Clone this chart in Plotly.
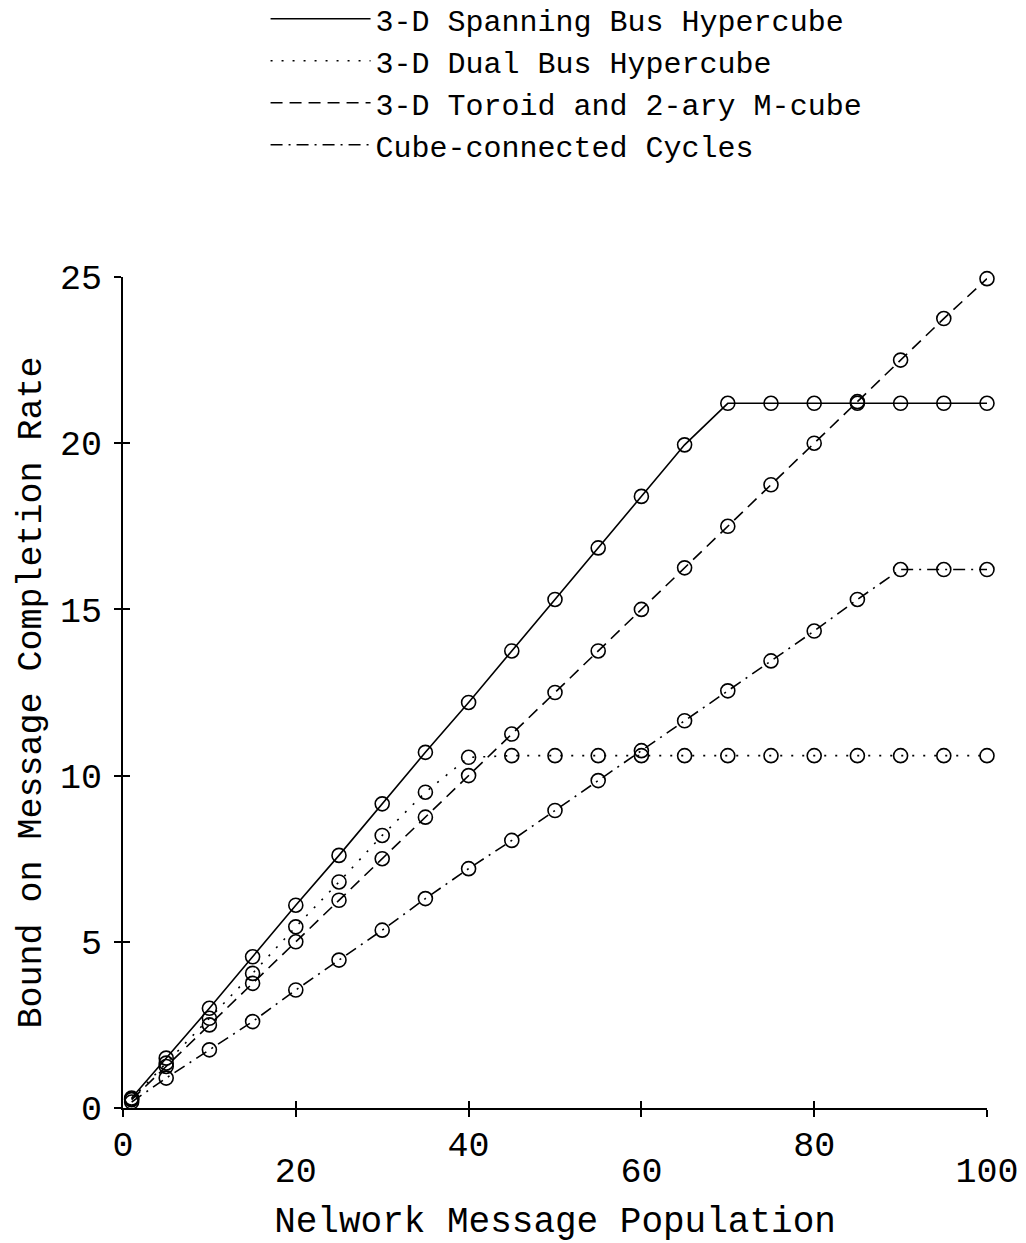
import plotly.graph_objects as go

# Network message population (x)
population = [1, 5, 10, 15, 20, 25, 30, 35, 40, 45, 50, 55, 60, 65, 70, 75, 80, 85, 90, 95, 100]

spanning_bus = [0.3, 1.5, 3.0, 4.55, 6.1, 7.6, 9.15, 10.7, 12.2, 13.75, 15.3, 16.85, 18.4, 19.95,
                21.2, 21.2, 21.2, 21.2, 21.2, 21.2, 21.2]
dual_bus = [0.27, 1.35, 2.7, 4.05, 5.45, 6.8, 8.2, 9.5, 10.55, 10.6, 10.6, 10.6, 10.6, 10.6,
            10.6, 10.6, 10.6, 10.6, 10.6, 10.6, 10.6]
toroid = [0.25, 1.25, 2.5, 3.75, 5.0, 6.25, 7.5, 8.75, 10.0, 11.25, 12.5, 13.75, 15.0, 16.25,
          17.5, 18.75, 20.0, 21.25, 22.5, 23.75, 24.95]
ccc = [0.18, 0.9, 1.75, 2.6, 3.55, 4.45, 5.35, 6.3, 7.2, 8.05, 8.95, 9.85, 10.75, 11.65,
       12.55, 13.45, 14.35, 15.3, 16.2, 16.2, 16.2]

series_names = ["3-D Spanning Bus Hypercube", "3-D Dual Bus Hypercube",
                "3-D Toroid and 2-ary M-cube", "Cube-connected Cycles"]
series_values = [spanning_bus, dual_bus, toroid, ccc]
dashes = ["solid", "2px,9px", "12px,7px", "12px,6px,2px,6px"]

x_ticks_row1 = [0, 40, 80]
x_ticks_row2 = [20, 60, 100]
y_ticks = [0, 5, 10, 15, 20, 25]

FONT = "Liberation Mono"
fig = go.Figure()

for name, vals, dash in zip(series_names, series_values, dashes):
    fig.add_trace(go.Scatter(
        x=population, y=vals, mode="lines", name=name,
        line=dict(color="black", width=1.6, dash=dash),
        hoverinfo="skip"))

for i, vals in enumerate(series_values):
    kw = {}
    if i == 3:
        kw["xaxis"] = "x2"
    if i == 2:
        kw["yaxis"] = "y2"
    fig.add_trace(go.Scatter(
        x=population, y=vals, mode="markers", showlegend=False, cliponaxis=False,
        marker=dict(symbol="circle-open", size=14, color="black", line=dict(width=1.6)),
        **kw))

all_x = sorted(x_ticks_row1 + x_ticks_row2)

fig.update_layout(
    width=1026, height=1243,
    paper_bgcolor="white", plot_bgcolor="white",
    margin=dict(l=123, r=39, t=277, b=135, autoexpand=False),
    font=dict(family=FONT, color="black", size=30),
    legend=dict(x=0.165, y=1.342, xanchor="left", yanchor="top",
                itemwidth=100, font=dict(size=30, family=FONT),
                bgcolor="rgba(0,0,0,0)", tracegroupgap=0),
    xaxis=dict(range=[0, 100], tickvals=all_x, automargin=False,
               ticktext=[str(v) if v in x_ticks_row1 else "" for v in all_x],
               ticks="outside", ticklen=7, tickwidth=1.5, tickcolor="black",
               showline=True, linecolor="black", linewidth=1.5, showgrid=False,
               zeroline=False, tickfont=dict(size=35, family=FONT),
               ticklabelstandoff=-3,
               title=dict(text="Nelwork Message Population",
                          font=dict(size=36, family=FONT), standoff=41)),
    xaxis2=dict(range=[0, 100], overlaying="x", anchor="y", side="bottom",
                tickvals=all_x, automargin=False,
                ticktext=[str(v) if v in x_ticks_row2 else "" for v in all_x],
                ticks="inside", ticklen=7, tickwidth=1.5, tickcolor="black",
                showline=False, showgrid=False, zeroline=False,
                tickfont=dict(size=35, family=FONT), ticklabelstandoff=38),
    yaxis=dict(range=[0, 25], tickvals=y_ticks, ticks="outside", ticklen=7,
               tickwidth=1.5, tickcolor="black", automargin=False,
               showline=True, linecolor="black", linewidth=2.2, showgrid=False,
               zeroline=False, tickfont=dict(size=35, family=FONT),
               ticklabelstandoff=5,
               title=dict(text="Bound on Message Completion Rate",
                          font=dict(size=35, family=FONT), standoff=8)),
    yaxis2=dict(range=[0, 25], overlaying="y", anchor="x", side="left",
                tickvals=y_ticks, ticktext=["" for _ in y_ticks], automargin=False,
                ticks="inside", ticklen=7, tickwidth=1.5, tickcolor="black",
                showline=False, showgrid=False, zeroline=False),
)

fig.write_html("out.html")
